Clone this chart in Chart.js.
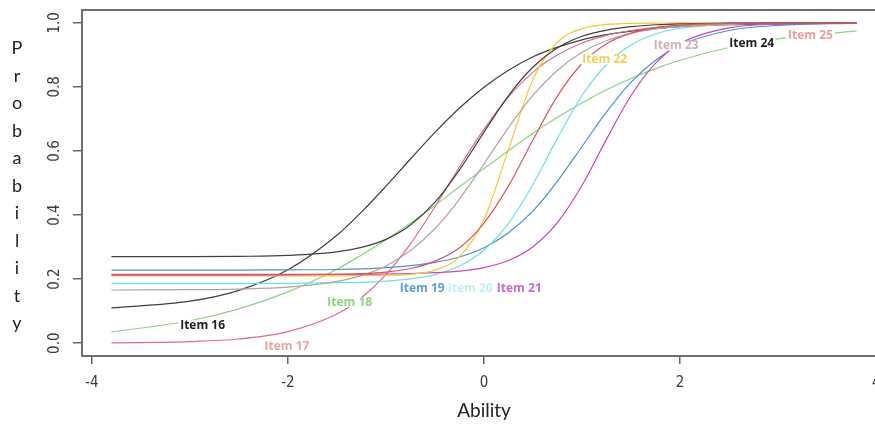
<!DOCTYPE html>
<html>
<head>
<meta charset="utf-8">
<script src="https://cdn.jsdelivr.net/npm/chart.js@4/dist/chart.umd.min.js"></script>
<style>
    html, body { margin: 0; padding: 0; background: #fff; overflow: hidden; }
    #wrap { width: 875px; height: 428px; overflow: hidden; }
    canvas { display: block; }
</style>
</head>
<body>
<div id="wrap"><canvas id="iccChart" width="892" height="428"></canvas></div>
<script>
// Item characteristic curves, items 16-25
const ability = [-3.8, -3, -2.5, -2, -1.5, -1.25, -1, -0.75, -0.5, -0.25, 0, 0.25, 0.5, 0.75, 1, 1.25, 1.5, 1.75, 2, 2.5, 3, 3.8];

const item16 = [0.110, 0.131, 0.165, 0.229, 0.337, 0.409, 0.490, 0.575, 0.658, 0.734, 0.799, 0.852, 0.894, 0.924, 0.947, 0.963, 0.974, 0.982, 0.988, 0.994, 0.997, 0.999];
const item17 = [0.001, 0.005, 0.013, 0.036, 0.091, 0.142, 0.214, 0.310, 0.426, 0.550, 0.668, 0.769, 0.846, 0.900, 0.937, 0.961, 0.976, 0.985, 0.991, 0.997, 0.999, 1.000];
const item18 = [0.035, 0.070, 0.107, 0.160, 0.231, 0.275, 0.323, 0.375, 0.430, 0.488, 0.545, 0.601, 0.655, 0.705, 0.750, 0.791, 0.826, 0.857, 0.883, 0.923, 0.950, 0.975];
const item19 = [0.228, 0.228, 0.228, 0.229, 0.230, 0.232, 0.236, 0.242, 0.252, 0.269, 0.298, 0.345, 0.413, 0.506, 0.614, 0.722, 0.815, 0.883, 0.930, 0.976, 0.992, 0.999];
const item20 = [0.187, 0.187, 0.187, 0.187, 0.189, 0.190, 0.194, 0.201, 0.214, 0.241, 0.291, 0.374, 0.496, 0.640, 0.773, 0.870, 0.931, 0.965, 0.983, 0.996, 0.999, 1.000];
const item21 = [0.215, 0.215, 0.215, 0.215, 0.215, 0.215, 0.216, 0.217, 0.220, 0.225, 0.236, 0.258, 0.301, 0.377, 0.493, 0.637, 0.773, 0.874, 0.935, 0.984, 0.996, 1.000];
const item22 = [0.210, 0.210, 0.210, 0.210, 0.210, 0.211, 0.212, 0.215, 0.228, 0.270, 0.386, 0.605, 0.824, 0.940, 0.982, 0.995, 0.998, 0.999, 1.000, 1.000, 1.000, 1.000];
const item23 = [0.166, 0.167, 0.169, 0.175, 0.193, 0.211, 0.241, 0.289, 0.358, 0.450, 0.560, 0.673, 0.774, 0.852, 0.908, 0.944, 0.967, 0.981, 0.988, 0.996, 0.998, 1.000];
const item24 = [0.270, 0.270, 0.271, 0.274, 0.285, 0.299, 0.324, 0.369, 0.440, 0.541, 0.659, 0.773, 0.862, 0.922, 0.958, 0.977, 0.988, 0.994, 0.997, 0.999, 1.000, 1.000];
const item25 = [0.2125, 0.2125, 0.2125, 0.213, 0.215, 0.217, 0.222, 0.233, 0.256, 0.298, 0.375, 0.491, 0.635, 0.772, 0.873, 0.935, 0.968, 0.985, 0.993, 0.998, 1.000, 1.000];

const itemNames = ['Item 16', 'Item 17', 'Item 18', 'Item 19', 'Item 20', 'Item 21', 'Item 22', 'Item 23', 'Item 24', 'Item 25'];
const itemSeries = [item16, item17, item18, item19, item20, item21, item22, item23, item24, item25];

const xTicks = [-4, -2, 0, 2, 4];
const yTicks = [0, 0.2, 0.4, 0.6, 0.8, 1.0];
const yTickLabels = ['0.0', '0.2', '0.4', '0.6', '0.8', '1.0'];

// where each curve label sits (ability, probability)
const labelAbility = [-2.87, -2.01, -1.37, -0.63, -0.14, 0.36, 1.23, 1.96, 2.73, 3.33];
const labelProb = [0.056, -0.010, 0.128, 0.172, 0.172, 0.172, 0.886, 0.928, 0.934, 0.961];

// styles
const lineColors = ['#404040', '#e46a84', '#86d879', '#4592dc', '#6ae2e5', '#cc44c0', '#f5c92a', '#b0a3a5', '#404040', '#e2525f'];
const labelColors = ['#1e1e1e', '#eaa5a5', '#86d97b', '#5aa0e0', '#bdf2f2', '#cf66cf', '#f3cf5a', '#cfb2b6', '#1e1e1e', '#f09c9c'];

const narrowFont = '"Liberation Sans Narrow", "DejaVu Sans Condensed", "Roboto", sans-serif';
const labelFont = '"Open Sans", "Lato", sans-serif';

const framePlugin = {
    id: 'frame',
    afterDatasetsDraw(chart) {
        const ctx = chart.ctx;
        const xs = chart.scales.x, ys = chart.scales.y;
        ctx.save();
        ctx.font = 'bold 12px ' + labelFont;
        ctx.textAlign = 'center';
        ctx.textBaseline = 'middle';
        itemNames.forEach((name, i) => {
            const px = xs.getPixelForValue(labelAbility[i]);
            const py = ys.getPixelForValue(labelProb[i]);
            const w = ctx.measureText(name).width;
            ctx.fillStyle = '#ffffff';
            ctx.fillRect(px - w / 2 - 2, py - 5, w + 4, 10);
            ctx.fillStyle = labelColors[i];
            ctx.fillText(name, px, py);
        });
        ctx.restore();
    },
    afterDraw(chart) {
        const ctx = chart.ctx;
        const a = chart.chartArea;
        const ys = chart.scales.y;
        ctx.save();
        // plot box
        ctx.strokeStyle = '#6e6e6e';
        ctx.lineWidth = 2;
        ctx.strokeRect(a.left, a.top, a.right - a.left, a.bottom - a.top);

        // rotated y tick labels
        ctx.fillStyle = '#3a3a3a';
        ctx.font = '15px ' + narrowFont;
        ctx.textAlign = 'center';
        ctx.textBaseline = 'middle';
        yTicks.forEach((v, i) => {
            ctx.save();
            ctx.translate(55, ys.getPixelForValue(v));
            ctx.rotate(-Math.PI / 2);
            ctx.fillText(yTickLabels[i], 0, 0);
            ctx.restore();
        });

        // stacked y title
        ctx.fillStyle = '#222';
        ctx.font = '18px "Lato", "Open Sans", sans-serif';
        ctx.textBaseline = 'alphabetic';
        'Probability'.split('').forEach((ch, i) => {
            ctx.fillText(ch, 17, 54 + i * 27.5);
        });
        ctx.restore();
    }
};

new Chart(document.getElementById('iccChart'), {
    type: 'line',
    data: {
        datasets: itemSeries.map((vals, i) => ({
            label: itemNames[i],
            data: ability.map((x, j) => ({ x: x, y: vals[j] })),
            borderColor: lineColors[i],
            borderWidth: 1.2,
            pointRadius: 0,
            fill: false,
            cubicInterpolationMode: 'monotone',
            order: itemSeries.length - i
        }))
    },
    options: {
        responsive: false,
        animation: false,
        layout: { padding: { top: 10, right: 6, bottom: 0, left: 0 } },
        plugins: {
            legend: { display: false },
            tooltip: { enabled: false }
        },
        scales: {
            x: {
                type: 'linear',
                min: -4.1,
                max: 4.1,
                afterBuildTicks: s => { s.ticks = xTicks.map(v => ({ value: v })); },
                afterFit: s => { s.height = 72; },
                border: { display: false },
                grid: { drawOnChartArea: false, drawTicks: true, tickLength: 8, color: '#666', lineWidth: 1.5 },
                ticks: {
                    color: '#3a3a3a',
                    padding: 10,
                    maxRotation: 0,
                    font: { family: narrowFont, size: 15 },
                    callback: v => String(v)
                },
                title: {
                    display: true,
                    text: 'Ability',
                    color: '#222',
                    font: { family: '"Lato", "Open Sans", sans-serif', size: 19 },
                    padding: { top: 0, bottom: 6 }
                }
            },
            y: {
                min: -0.04,
                max: 1.04,
                afterBuildTicks: s => { s.ticks = yTicks.map(v => ({ value: v })); },
                afterFit: s => { s.width = 82; },
                border: { display: false },
                grid: { drawOnChartArea: false, drawTicks: true, tickLength: 9, color: '#666', lineWidth: 1.5 },
                ticks: { display: false }
            }
        }
    },
    plugins: [framePlugin]
});
</script>
</body>
</html>
